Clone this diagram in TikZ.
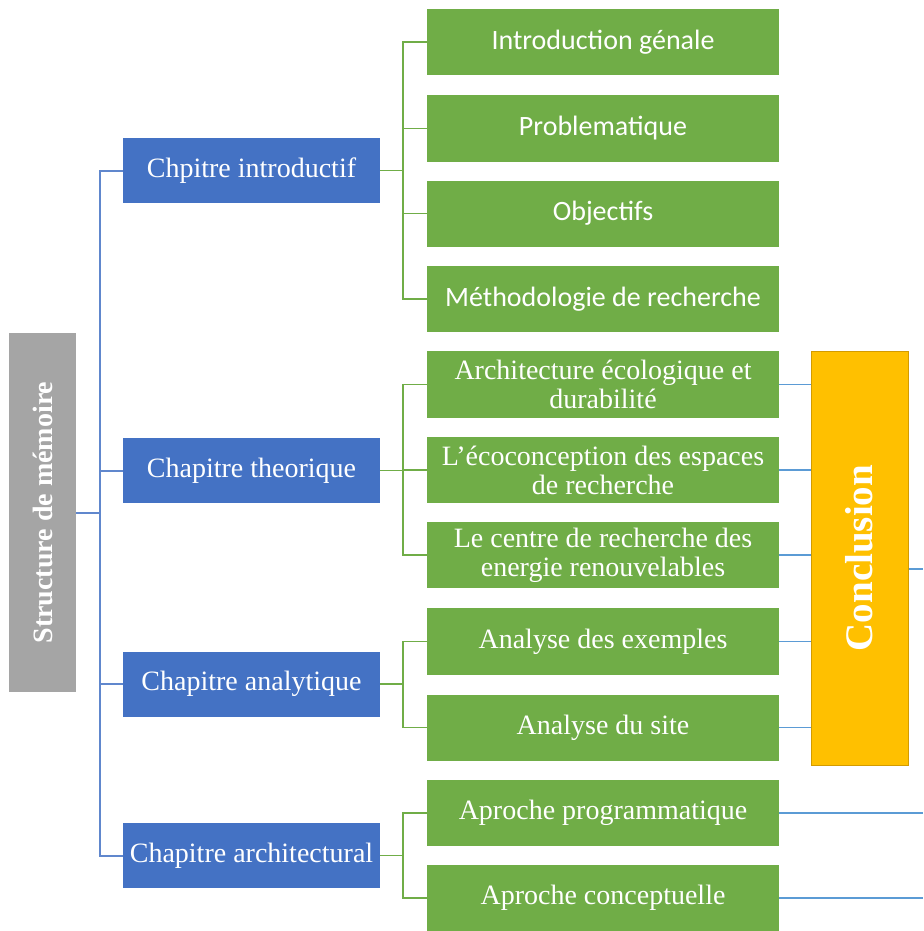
\documentclass[tikz,border=0pt]{standalone}
\usepackage{fontspec}
\setmainfont{Liberation Serif}
\newfontfamily\calibri{Carlito}
\usepackage{xcolor}
\definecolor{chapblue}{HTML}{4472C4}
\definecolor{itemgreen}{HTML}{70AD47}
\definecolor{rootgray}{HTML}{A5A5A5}
\definecolor{conclyellow}{HTML}{FFC000}
\definecolor{conclborder}{HTML}{D39B00}
\definecolor{linkblue}{HTML}{5B9BD5}
\tikzset{
  box/.style={text=white,inner sep=2pt,align=center,
    font=\fontsize{28}{29}\selectfont},
  chapbox/.style={box,fill=chapblue,minimum width=257pt,minimum height=65pt},
  itembox/.style={box,fill=itemgreen,minimum width=352pt,minimum height=66pt},
  sansitem/.style={itembox,font=\calibri\fontsize{28}{29}\selectfont},
  treeline/.style={draw=chapblue!85,line width=2pt},
  branch/.style={draw=itemgreen,line width=1.8pt},
  link/.style={draw=linkblue,line width=1.6pt}
}

\begin{document}
\begin{tikzpicture}[x=1pt,y=-1pt,
  rootbox/.style={box,fill=rootgray,rotate=90,minimum width=359pt,
    minimum height=67pt,font=\bfseries\fontsize{28}{29}\selectfont},
  conclbox/.style={box,fill=conclyellow,draw=conclborder,line width=1pt,
    rotate=90,minimum width=414pt,minimum height=97pt,
    font=\bfseries\fontsize{39}{40}\selectfont}
]
  \useasboundingbox (0,0) rectangle (923,931);

  % root and chapters
  \node[rootbox] (root) at (42.5,512.5) {Structure de mémoire};
  \node[chapbox] (chapintro) at (251.5,170.5) {Chpitre introductif};
  \node[chapbox] (chaptheo) at (251.5,470.5) {Chapitre theorique};
  \node[chapbox] (chapana) at (251.5,684) {Chapitre analytique};
  \node[chapbox] (chaparchi) at (251.5,855.5) {Chapitre architectural};

  \coordinate (spine) at (100,512.5);
  \draw[treeline] (root.south) -- (spine);
  \draw[treeline] (spine) |- (chapintro.west);
  \draw[treeline] (spine) |- (chaptheo.west);
  \draw[treeline] (spine) |- (chapana.west);
  \draw[treeline] (spine) |- (chaparchi.west);

  % items
  \node[sansitem] (intro) at (603,42) {Introduction génale};
  \node[sansitem] (problem) at (603,128.5) {Problematique};
  \node[sansitem] (objectifs) at (603,213.5) {Objectifs};
  \node[sansitem] (methodo) at (603,299) {Méthodologie de recherche};
  \node[itembox,minimum height=67pt] (archeco) at (603,384.5)
    {Architecture écologique et\\durabilité};
  \node[itembox] (ecoconc) at (603,470)
    {L'écoconception des espaces\\de recherche};
  \node[itembox] (centre) at (603,555)
    {Le centre de recherche des\\energie renouvelables};
  \node[itembox,minimum height=67pt] (exemples) at (603,641.5)
    {Analyse des exemples};
  \node[itembox] (site) at (603,727.5) {Analyse du site};
  \node[itembox] (programme) at (603,813) {Aproche programmatique};
  \node[itembox] (concept) at (603,898) {Aproche conceptuelle};

  \foreach \chap/\item in {chapintro/intro,chapintro/problem,
      chapintro/objectifs,chapintro/methodo,chaptheo/archeco,
      chaptheo/ecoconc,chaptheo/centre,chapana/exemples,chapana/site,
      chaparchi/programme,chaparchi/concept}
    \draw[branch] (\chap.east) -- ++(23,0) |- (\item.west);

  % conclusion
  \node[conclbox] (concl) at (859.5,558) {Conclusion};
  \foreach \item in {archeco,ecoconc,centre,exemples,site}
    \draw[link] (\item.east) -- (\item.east -| concl.north);

  \coordinate (out) at (923,569);
  \draw[link] (out -| concl.south) -- (out);
  \draw[link] (programme.east) -- (programme.east -| out);
  \draw[link] (concept.east) -- (concept.east -| out);
\end{tikzpicture}
\end{document}
